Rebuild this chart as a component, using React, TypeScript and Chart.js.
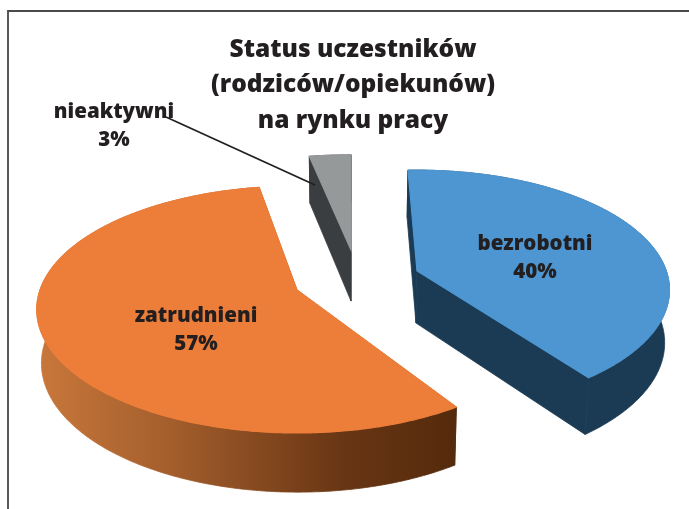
import React, { useEffect, useRef } from "react";
import { Chart, registerables } from "chart.js";

Chart.register(...registerables);

const titleLines = ["Status uczestników", "(rodziców/opiekunów)", "na rynku pracy"];
const categories = ["bezrobotni", "zatrudnieni", "nieaktywni"];
const shares = [40, 57, 3];
const topColors = ["#4d96d1", "#ed7e3a", "#96999a"];

const FONT = '"Open Sans", sans-serif';
const INK = "#231f20";
const RADIUS = 257;
const MINOR = 120.4;
const PERSPECTIVE = 0.158;

// Screen placement of each exploded slice: apex, angular fit (degrees) and scale.
const placement = [
  { x: 417, y: 271, turnA: -1.4, turnB: 0, sx: 0.97, sy: 0.97 },
  { x: 297, y: 290, turnA: 4.5, turnB: 2, sx: 1, sy: 1 },
  { x: 351, y: 250, turnA: 1, turnB: 1, sx: 1, sy: 0.915 },
];
const labelPlace = [
  { x: 535, y: 244 },
  { x: 196, y: 316 },
  { x: 114, y: 112 },
];

type P = { x: number; y: number };

const project = (i: number, angle: number, t: number): P => {
  const pl = placement[i];
  const a = angle + ((pl.turnA + (pl.turnB - pl.turnA) * t) * Math.PI) / 180;
  const u = Math.cos(a);
  const v = Math.sin(a);
  const w = 1 - PERSPECTIVE * v;
  return { x: pl.x + (pl.sx * RADIUS * u) / w, y: pl.y + (pl.sy * MINOR * v) / w };
};
const lower = (p: P): P => ({
  x: p.x - (p.x - 350) * 0.015,
  y: p.y + 47 + (p.y - 157) * 0.044,
});
const trace = (ctx: CanvasRenderingContext2D, pts: P[]) => {
  ctx.beginPath();
  pts.forEach((p, k) => (k ? ctx.lineTo(p.x, p.y) : ctx.moveTo(p.x, p.y)));
  ctx.closePath();
};

const sidePaint = (ctx: CanvasRenderingContext2D, i: number) => {
  if (i === 0) return "#1b3b54";
  if (i === 2) return "#3a3e41";
  const g = ctx.createLinearGradient(40, 0, 458, 0);
  g.addColorStop(0, "#c8773a");
  g.addColorStop(0.3, "#a55f2d");
  g.addColorStop(0.72, "#693614");
  g.addColorStop(1, "#542a0c");
  return g;
};

const pie3d = {
  id: "pie3d",
  beforeDatasetsDraw(chart: any) {
    const ctx: CanvasRenderingContext2D = chart.ctx;
    const arcs = chart.getDatasetMeta(0).data;
    [2, 1, 0].forEach((i) => {
      const { startAngle, endAngle } = arcs[i];
      const pl = placement[i];
      const rim: P[] = [];
      const steps = Math.max(4, Math.ceil((endAngle - startAngle) / 0.01));
      for (let k = 0; k <= steps; k++) {
        const t = k / steps;
        rim.push(project(i, startAngle + (endAngle - startAngle) * t, t));
      }
      const apex = { x: pl.x, y: pl.y };
      const paint = sidePaint(ctx, i);
      ctx.fillStyle = paint;
      ctx.strokeStyle = paint;
      ctx.lineWidth = 0.8;
      const faces = [
        [apex, rim[0], lower(rim[0]), lower(apex)],
        [apex, rim[steps], lower(rim[steps]), lower(apex)],
        [...rim, ...rim.map(lower).reverse()],
      ];
      faces.forEach((face) => {
        trace(ctx, face);
        ctx.fill();
        ctx.stroke();
      });
      ctx.fillStyle = topColors[i];
      ctx.strokeStyle = topColors[i];
      ctx.lineWidth = 1.2;
      trace(ctx, [apex, ...rim]);
      ctx.fill();
      ctx.stroke();
    });
    return false;
  },
  afterDraw(chart: any) {
    const ctx: CanvasRenderingContext2D = chart.ctx;
    ctx.save();
    ctx.strokeStyle = INK;
    ctx.lineWidth = 1.8;
    ctx.beginPath();
    ctx.moveTo(166, 117);
    ctx.lineTo(315, 185);
    ctx.stroke();
    ctx.fillStyle = INK;
    ctx.font = `800 20.5px ${FONT}`;
    ctx.textAlign = "center";
    ctx.textBaseline = "middle";
    categories.forEach((name, i) => {
      ctx.fillText(name, labelPlace[i].x, labelPlace[i].y);
      ctx.fillText(`${shares[i]}%`, labelPlace[i].x, labelPlace[i].y + 28);
    });
    ctx.restore();
  },
};

export default function App() {
  const ref = useRef<HTMLCanvasElement>(null);
  useEffect(() => {
    const chart = new Chart(ref.current!, {
      type: "pie",
      data: {
        labels: categories,
        datasets: [{ data: shares, backgroundColor: topColors, borderWidth: 0 }],
      },
      options: {
        animation: false,
        responsive: false,
        rotation: -1,
        layout: { padding: { left: 17 } },
        plugins: {
          legend: { display: false },
          tooltip: { enabled: false },
          title: {
            display: true,
            text: titleLines,
            color: INK,
            font: { family: FONT, size: 24.5, weight: "800", lineHeight: 1.45 },
            padding: { top: 32, bottom: 0 },
          },
        },
      },
      plugins: [pie3d],
    } as any);
    return () => chart.destroy();
  }, []);
  return (
    <div style={{ position: "fixed", left: 0, top: 0, width: 689, height: 509, background: "#fff", overflow: "hidden" }}>
      <div
        style={{
          position: "absolute",
          left: 7,
          top: 10,
          right: 0,
          bottom: 0,
          borderLeft: "2px solid #5a5a5a",
          borderTop: "2px solid #4a4a4a",
        }}
      />
      <canvas ref={ref} width={689} height={509} style={{ position: "absolute", left: 0, top: 0 }} />
    </div>
  );
}
